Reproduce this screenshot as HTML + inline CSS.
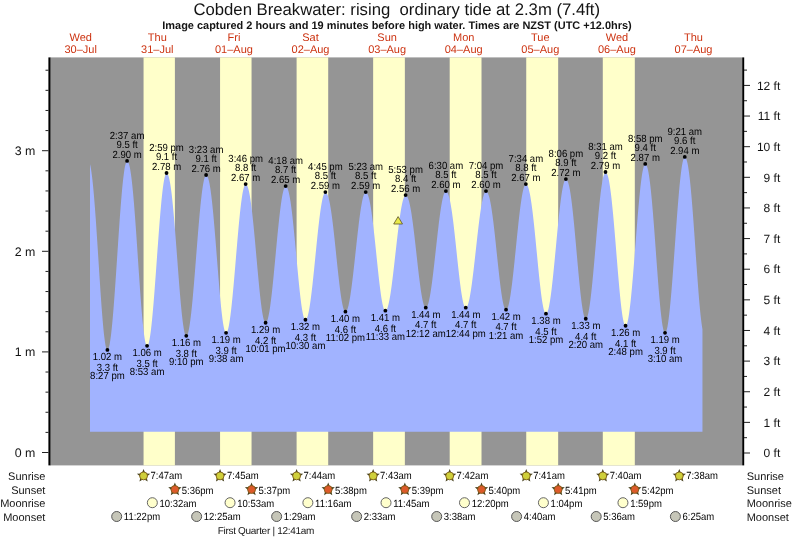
<!DOCTYPE html><html><head><meta charset="utf-8"><title>Cobden Breakwater tide</title>
<style>
html,body{margin:0;padding:0;background:#fff;}
body{width:793px;height:539px;overflow:hidden;position:relative;font-family:"Liberation Sans",sans-serif;}
svg{position:absolute;left:0;top:0;display:block;will-change:transform;}
text{font-family:"Liberation Sans",sans-serif;fill:#141414;text-rendering:geometricPrecision;}
.t{font-size:16.72px;text-anchor:middle;}
.s{font-size:10.96px;font-weight:bold;text-anchor:middle;}
.d{font-size:11px;text-anchor:middle;fill:#cc3311;}
.ax{font-size:12px;}
.lb{font-size:10.3px;text-anchor:middle;fill:#000;}
.rw{font-size:11px;}
.tm{font-size:10.4px;fill:#000;}
</style></head><body>
<svg width="793" height="539" viewBox="0 0 793 539">
<rect x="0" y="0" width="793" height="539" fill="#fff"/>
<rect x="50" y="57.4" width="692" height="408.0" fill="#959595"/>
<rect x="143.56" y="57.4" width="31.33" height="408.0" fill="#ffffca"/>
<rect x="220.06" y="57.4" width="31.49" height="408.0" fill="#ffffca"/>
<rect x="296.60" y="57.4" width="31.60" height="408.0" fill="#ffffca"/>
<rect x="373.15" y="57.4" width="31.70" height="408.0" fill="#ffffca"/>
<rect x="449.70" y="57.4" width="31.81" height="408.0" fill="#ffffca"/>
<rect x="526.24" y="57.4" width="31.92" height="408.0" fill="#ffffca"/>
<rect x="602.79" y="57.4" width="32.02" height="408.0" fill="#ffffca"/>
<path d="M90.00 431.70 L90.00 164.14 L90.50 166.36 L91.00 169.11 L91.50 172.38 L92.00 176.16 L92.50 180.45 L93.00 185.23 L93.50 190.47 L94.00 196.15 L94.50 202.24 L95.00 208.70 L95.50 215.50 L96.00 222.60 L96.50 229.94 L97.00 237.49 L97.50 245.18 L98.00 252.98 L98.50 260.82 L99.00 268.66 L99.50 276.43 L100.00 284.08 L100.50 291.55 L101.00 298.79 L101.50 305.74 L102.00 312.35 L102.50 318.57 L103.00 324.35 L103.50 329.64 L104.00 334.41 L104.50 338.61 L105.00 342.20 L105.50 345.15 L106.00 347.45 L106.50 349.06 L107.00 349.97 L107.50 350.18 L108.00 349.74 L108.50 348.71 L109.00 347.09 L109.50 344.88 L110.00 342.11 L110.50 338.78 L111.00 334.93 L111.50 330.58 L112.00 325.74 L112.50 320.46 L113.00 314.77 L113.50 308.71 L114.00 302.30 L114.50 295.60 L115.00 288.65 L115.50 281.48 L116.00 274.16 L116.50 266.71 L117.00 259.20 L117.50 251.66 L118.00 244.15 L118.50 236.71 L119.00 229.39 L119.50 222.24 L120.00 215.31 L120.50 208.63 L121.00 202.25 L121.50 196.21 L122.00 190.55 L122.50 185.30 L123.00 180.51 L123.50 176.19 L124.00 172.38 L124.50 169.10 L125.00 166.37 L125.50 164.21 L126.00 162.63 L126.50 161.64 L127.00 161.26 L127.50 161.36 L128.00 161.85 L128.50 162.77 L129.00 164.15 L129.50 166.01 L130.00 168.35 L130.50 171.18 L131.00 174.49 L131.50 178.27 L132.00 182.52 L132.50 187.21 L133.00 192.33 L133.50 197.85 L134.00 203.74 L134.50 209.96 L135.00 216.49 L135.50 223.28 L136.00 230.30 L136.50 237.49 L137.00 244.82 L137.50 252.24 L138.00 259.69 L138.50 267.13 L139.00 274.51 L139.50 281.78 L140.00 288.88 L140.50 295.77 L141.00 302.39 L141.50 308.71 L142.00 314.66 L142.50 320.21 L143.00 325.32 L143.50 329.94 L144.00 334.05 L144.50 337.60 L145.00 340.56 L145.50 342.92 L146.00 344.65 L146.50 345.74 L147.00 346.16 L147.50 345.96 L148.00 345.20 L148.50 343.89 L149.00 342.02 L149.50 339.62 L150.00 336.71 L150.50 333.29 L151.00 329.39 L151.50 325.04 L152.00 320.26 L152.50 315.09 L153.00 309.56 L153.50 303.71 L154.00 297.57 L154.50 291.18 L155.00 284.59 L155.50 277.84 L156.00 270.97 L156.50 264.02 L157.00 257.05 L157.50 250.10 L158.00 243.21 L158.50 236.42 L159.00 229.79 L159.50 223.36 L160.00 217.16 L160.50 211.23 L161.00 205.63 L161.50 200.37 L162.00 195.50 L162.50 191.05 L163.00 187.05 L163.50 183.51 L164.00 180.48 L164.50 177.96 L165.00 175.97 L165.50 174.53 L166.00 173.64 L166.50 173.31 L167.00 173.43 L167.50 173.89 L168.00 174.75 L168.50 176.03 L169.00 177.74 L169.50 179.88 L170.00 182.47 L170.50 185.49 L171.00 188.94 L171.50 192.81 L172.00 197.07 L172.50 201.72 L173.00 206.72 L173.50 212.04 L174.00 217.67 L174.50 223.56 L175.00 229.68 L175.50 235.99 L176.00 242.45 L176.50 249.02 L177.00 255.66 L177.50 262.31 L178.00 268.93 L178.50 275.49 L179.00 281.92 L179.50 288.19 L180.00 294.24 L180.50 300.04 L181.00 305.53 L181.50 310.69 L182.00 315.46 L182.50 319.81 L183.00 323.71 L183.50 327.12 L184.00 330.02 L184.50 332.38 L185.00 334.18 L185.50 335.40 L186.00 336.03 L186.50 336.07 L187.00 335.59 L187.50 334.62 L188.00 333.15 L188.50 331.19 L189.00 328.76 L189.50 325.88 L190.00 322.55 L190.50 318.81 L191.00 314.67 L191.50 310.16 L192.00 305.31 L192.50 300.15 L193.00 294.71 L193.50 289.03 L194.00 283.14 L194.50 277.07 L195.00 270.88 L195.50 264.58 L196.00 258.24 L196.50 251.87 L197.00 245.53 L197.50 239.26 L198.00 233.09 L198.50 227.06 L199.00 221.21 L199.50 215.57 L200.00 210.19 L200.50 205.09 L201.00 200.31 L201.50 195.88 L202.00 191.82 L202.50 188.16 L203.00 184.92 L203.50 182.13 L204.00 179.80 L204.50 177.95 L205.00 176.58 L205.50 175.71 L206.00 175.33 L206.50 175.40 L207.00 175.78 L207.50 176.54 L208.00 177.68 L208.50 179.24 L209.00 181.21 L209.50 183.59 L210.00 186.39 L210.50 189.60 L211.00 193.21 L211.50 197.20 L212.00 201.56 L212.50 206.26 L213.00 211.28 L213.50 216.59 L214.00 222.16 L214.50 227.96 L215.00 233.95 L215.50 240.10 L216.00 246.37 L216.50 252.71 L217.00 259.09 L217.50 265.46 L218.00 271.77 L218.50 277.99 L219.00 284.07 L219.50 289.97 L220.00 295.64 L220.50 301.05 L221.00 306.15 L221.50 310.90 L222.00 315.28 L222.50 319.24 L223.00 322.75 L223.50 325.79 L224.00 328.32 L224.50 330.34 L225.00 331.82 L225.50 332.74 L226.00 333.10 L226.50 332.93 L227.00 332.27 L227.50 331.15 L228.00 329.55 L228.50 327.50 L229.00 325.01 L229.50 322.10 L230.00 318.77 L230.50 315.06 L231.00 310.99 L231.50 306.58 L232.00 301.86 L232.50 296.86 L233.00 291.62 L233.50 286.17 L234.00 280.54 L234.50 274.77 L235.00 268.90 L235.50 262.96 L236.00 256.99 L236.50 251.04 L237.00 245.14 L237.50 239.32 L238.00 233.63 L238.50 228.10 L239.00 222.76 L239.50 217.66 L240.00 212.82 L240.50 208.28 L241.00 204.06 L241.50 200.20 L242.00 196.71 L242.50 193.62 L243.00 190.95 L243.50 188.72 L244.00 186.93 L244.50 185.61 L245.00 184.76 L245.50 184.38 L246.00 184.42 L246.50 184.75 L247.00 185.39 L247.50 186.39 L248.00 187.74 L248.50 189.45 L249.00 191.53 L249.50 193.98 L250.00 196.78 L250.50 199.94 L251.00 203.43 L251.50 207.24 L252.00 211.36 L252.50 215.76 L253.00 220.41 L253.50 225.30 L254.00 230.39 L254.50 235.65 L255.00 241.05 L255.50 246.55 L256.00 252.13 L256.50 257.73 L257.00 263.33 L257.50 268.88 L258.00 274.36 L258.50 279.71 L259.00 284.90 L259.50 289.90 L260.00 294.66 L260.50 299.16 L261.00 303.35 L261.50 307.21 L262.00 310.71 L262.50 313.82 L263.00 316.51 L263.50 318.76 L264.00 320.55 L264.50 321.87 L265.00 322.71 L265.50 323.05 L266.00 322.91 L266.50 322.36 L267.00 321.39 L267.50 320.02 L268.00 318.24 L268.50 316.08 L269.00 313.53 L269.50 310.63 L270.00 307.38 L270.50 303.82 L271.00 299.95 L271.50 295.80 L272.00 291.40 L272.50 286.77 L273.00 281.95 L273.50 276.97 L274.00 271.84 L274.50 266.61 L275.00 261.31 L275.50 255.97 L276.00 250.62 L276.50 245.29 L277.00 240.02 L277.50 234.85 L278.00 229.79 L278.50 224.89 L279.00 220.17 L279.50 215.66 L280.00 211.39 L280.50 207.39 L281.00 203.68 L281.50 200.28 L282.00 197.21 L282.50 194.50 L283.00 192.15 L283.50 190.19 L284.00 188.63 L284.50 187.47 L285.00 186.72 L285.50 186.39 L286.00 186.43 L286.50 186.75 L287.00 187.38 L287.50 188.35 L288.00 189.67 L288.50 191.35 L289.00 193.39 L289.50 195.78 L290.00 198.53 L290.50 201.62 L291.00 205.04 L291.50 208.77 L292.00 212.79 L292.50 217.09 L293.00 221.64 L293.50 226.42 L294.00 231.38 L294.50 236.52 L295.00 241.78 L295.50 247.14 L296.00 252.56 L296.50 258.01 L297.00 263.44 L297.50 268.82 L298.00 274.12 L298.50 279.29 L299.00 284.30 L299.50 289.11 L300.00 293.68 L300.50 297.99 L301.00 301.99 L301.50 305.65 L302.00 308.96 L302.50 311.87 L303.00 314.37 L303.50 316.43 L304.00 318.05 L304.50 319.19 L305.00 319.86 L305.50 320.04 L306.00 319.79 L306.50 319.14 L307.00 318.11 L307.50 316.69 L308.00 314.89 L308.50 312.74 L309.00 310.23 L309.50 307.39 L310.00 304.23 L310.50 300.77 L311.00 297.04 L311.50 293.05 L312.00 288.84 L312.50 284.42 L313.00 279.83 L313.50 275.10 L314.00 270.24 L314.50 265.30 L315.00 260.30 L315.50 255.28 L316.00 250.27 L316.50 245.29 L317.00 240.37 L317.50 235.56 L318.00 230.87 L318.50 226.35 L319.00 222.00 L319.50 217.87 L320.00 213.98 L320.50 210.35 L321.00 207.00 L321.50 203.96 L322.00 201.24 L322.50 198.86 L323.00 196.84 L323.50 195.18 L324.00 193.91 L324.50 193.02 L325.00 192.52 L325.50 192.41 L326.00 192.57 L326.50 192.98 L327.00 193.69 L327.50 194.69 L328.00 196.00 L328.50 197.63 L329.00 199.57 L329.50 201.81 L330.00 204.36 L330.50 207.21 L331.00 210.33 L331.50 213.73 L332.00 217.37 L332.50 221.25 L333.00 225.33 L333.50 229.60 L334.00 234.03 L334.50 238.60 L335.00 243.27 L335.50 248.02 L336.00 252.82 L336.50 257.63 L337.00 262.42 L337.50 267.16 L338.00 271.82 L338.50 276.36 L339.00 280.75 L339.50 284.97 L340.00 288.97 L340.50 292.74 L341.00 296.23 L341.50 299.44 L342.00 302.32 L342.50 304.87 L343.00 307.05 L343.50 308.85 L344.00 310.26 L344.50 311.26 L345.00 311.84 L345.50 312.00 L346.00 311.77 L346.50 311.19 L347.00 310.25 L347.50 308.96 L348.00 307.33 L348.50 305.38 L349.00 303.10 L349.50 300.51 L350.00 297.64 L350.50 294.50 L351.00 291.10 L351.50 287.46 L352.00 283.62 L352.50 279.58 L353.00 275.38 L353.50 271.05 L354.00 266.60 L354.50 262.06 L355.00 257.46 L355.50 252.84 L356.00 248.20 L356.50 243.60 L357.00 239.04 L357.50 234.56 L358.00 230.19 L358.50 225.95 L359.00 221.87 L359.50 217.97 L360.00 214.28 L360.50 210.81 L361.00 207.60 L361.50 204.65 L362.00 201.98 L362.50 199.62 L363.00 197.57 L363.50 195.85 L364.00 194.47 L364.50 193.44 L365.00 192.76 L365.50 192.43 L366.00 192.44 L366.50 192.69 L367.00 193.23 L367.50 194.06 L368.00 195.21 L368.50 196.68 L369.00 198.47 L369.50 200.58 L370.00 203.01 L370.50 205.75 L371.00 208.78 L371.50 212.09 L372.00 215.67 L372.50 219.50 L373.00 223.55 L373.50 227.80 L374.00 232.22 L374.50 236.80 L375.00 241.49 L375.50 246.27 L376.00 251.11 L376.50 255.96 L377.00 260.81 L377.50 265.61 L378.00 270.34 L378.50 274.95 L379.00 279.41 L379.50 283.69 L380.00 287.77 L380.50 291.59 L381.00 295.15 L381.50 298.40 L382.00 301.33 L382.50 303.90 L383.00 306.11 L383.50 307.92 L384.00 309.33 L384.50 310.31 L385.00 310.87 L385.50 310.99 L386.00 310.73 L386.50 310.13 L387.00 309.18 L387.50 307.90 L388.00 306.28 L388.50 304.35 L389.00 302.11 L389.50 299.57 L390.00 296.75 L390.50 293.67 L391.00 290.34 L391.50 286.79 L392.00 283.04 L392.50 279.11 L393.00 275.02 L393.50 270.80 L394.00 266.48 L394.50 262.07 L395.00 257.61 L395.50 253.12 L396.00 248.64 L396.50 244.18 L397.00 239.78 L397.50 235.45 L398.00 231.24 L398.50 227.15 L399.00 223.23 L399.50 219.48 L400.00 215.94 L400.50 212.63 L401.00 209.56 L401.50 206.75 L402.00 204.22 L402.50 201.99 L403.00 200.07 L403.50 198.46 L404.00 197.19 L404.50 196.26 L405.00 195.67 L405.50 195.43 L406.00 195.48 L406.50 195.76 L407.00 196.29 L407.50 197.11 L408.00 198.20 L408.50 199.59 L409.00 201.27 L409.50 203.23 L410.00 205.49 L410.50 208.02 L411.00 210.82 L411.50 213.87 L412.00 217.17 L412.50 220.69 L413.00 224.41 L413.50 228.33 L414.00 232.40 L414.50 236.61 L415.00 240.94 L415.50 245.35 L416.00 249.82 L416.50 254.32 L417.00 258.82 L417.50 263.29 L418.00 267.69 L418.50 272.01 L419.00 276.21 L419.50 280.25 L420.00 284.12 L420.50 287.78 L421.00 291.21 L421.50 294.37 L422.00 297.26 L422.50 299.84 L423.00 302.09 L423.50 304.00 L424.00 305.55 L424.50 306.73 L425.00 307.52 L425.50 307.93 L426.00 307.94 L426.50 307.59 L427.00 306.89 L427.50 305.84 L428.00 304.44 L428.50 302.71 L429.00 300.66 L429.50 298.30 L430.00 295.64 L430.50 292.70 L431.00 289.50 L431.50 286.06 L432.00 282.39 L432.50 278.53 L433.00 274.48 L433.50 270.29 L434.00 265.97 L434.50 261.56 L435.00 257.07 L435.50 252.53 L436.00 247.98 L436.50 243.44 L437.00 238.93 L437.50 234.50 L438.00 230.15 L438.50 225.92 L439.00 221.84 L439.50 217.93 L440.00 214.21 L440.50 210.71 L441.00 207.45 L441.50 204.44 L442.00 201.71 L442.50 199.28 L443.00 197.15 L443.50 195.34 L444.00 193.86 L444.50 192.72 L445.00 191.93 L445.50 191.50 L446.00 191.41 L446.50 191.57 L447.00 191.99 L447.50 192.70 L448.00 193.70 L448.50 195.01 L449.00 196.63 L449.50 198.56 L450.00 200.80 L450.50 203.33 L451.00 206.16 L451.50 209.26 L452.00 212.62 L452.50 216.24 L453.00 220.07 L453.50 224.12 L454.00 228.34 L454.50 232.72 L455.00 237.23 L455.50 241.83 L456.00 246.51 L456.50 251.23 L457.00 255.95 L457.50 260.65 L458.00 265.29 L458.50 269.85 L459.00 274.28 L459.50 278.56 L460.00 282.65 L460.50 286.52 L461.00 290.16 L461.50 293.52 L462.00 296.58 L462.50 299.32 L463.00 301.71 L463.50 303.74 L464.00 305.39 L464.50 306.65 L465.00 307.49 L465.50 307.92 L466.00 307.94 L466.50 307.60 L467.00 306.90 L467.50 305.86 L468.00 304.48 L468.50 302.78 L469.00 300.75 L469.50 298.41 L470.00 295.78 L470.50 292.87 L471.00 289.70 L471.50 286.29 L472.00 282.65 L472.50 278.82 L473.00 274.82 L473.50 270.66 L474.00 266.37 L474.50 261.99 L475.00 257.53 L475.50 253.02 L476.00 248.49 L476.50 243.97 L477.00 239.48 L477.50 235.06 L478.00 230.72 L478.50 226.50 L479.00 222.42 L479.50 218.50 L480.00 214.77 L480.50 211.26 L481.00 207.97 L481.50 204.94 L482.00 202.17 L482.50 199.69 L483.00 197.52 L483.50 195.66 L484.00 194.12 L484.50 192.92 L485.00 192.07 L485.50 191.56 L486.00 191.40 L486.50 191.51 L487.00 191.87 L487.50 192.52 L488.00 193.46 L488.50 194.70 L489.00 196.25 L489.50 198.12 L490.00 200.29 L490.50 202.76 L491.00 205.53 L491.50 208.57 L492.00 211.89 L492.50 215.46 L493.00 219.26 L493.50 223.27 L494.00 227.47 L494.50 231.84 L495.00 236.35 L495.50 240.96 L496.00 245.66 L496.50 250.41 L497.00 255.18 L497.50 259.94 L498.00 264.65 L498.50 269.28 L499.00 273.81 L499.50 278.20 L500.00 282.41 L500.50 286.43 L501.00 290.21 L501.50 293.73 L502.00 296.96 L502.50 299.88 L503.00 302.47 L503.50 304.70 L504.00 306.56 L504.50 308.03 L505.00 309.10 L505.50 309.75 L506.00 309.99 L506.50 309.82 L507.00 309.25 L507.50 308.29 L508.00 306.96 L508.50 305.24 L509.00 303.17 L509.50 300.74 L510.00 297.98 L510.50 294.90 L511.00 291.52 L511.50 287.86 L512.00 283.95 L512.50 279.80 L513.00 275.46 L513.50 270.93 L514.00 266.26 L514.50 261.47 L515.00 256.59 L515.50 251.64 L516.00 246.68 L516.50 241.71 L517.00 236.78 L517.50 231.91 L518.00 227.14 L518.50 222.50 L519.00 218.01 L519.50 213.70 L520.00 209.60 L520.50 205.74 L521.00 202.13 L521.50 198.81 L522.00 195.79 L522.50 193.10 L523.00 190.74 L523.50 188.74 L524.00 187.10 L524.50 185.84 L525.00 184.96 L525.50 184.47 L526.00 184.37 L526.50 184.55 L527.00 185.00 L527.50 185.77 L528.00 186.85 L528.50 188.28 L529.00 190.04 L529.50 192.13 L530.00 194.56 L530.50 197.32 L531.00 200.39 L531.50 203.77 L532.00 207.43 L532.50 211.37 L533.00 215.55 L533.50 219.97 L534.00 224.58 L534.50 229.37 L535.00 234.30 L535.50 239.35 L536.00 244.49 L536.50 249.67 L537.00 254.87 L537.50 260.05 L538.00 265.18 L538.50 270.22 L539.00 275.13 L539.50 279.89 L540.00 284.46 L540.50 288.80 L541.00 292.89 L541.50 296.69 L542.00 300.18 L542.50 303.32 L543.00 306.09 L543.50 308.48 L544.00 310.46 L544.50 312.02 L545.00 313.13 L545.50 313.80 L546.00 314.01 L546.50 313.78 L547.00 313.13 L547.50 312.07 L548.00 310.61 L548.50 308.74 L549.00 306.49 L549.50 303.86 L550.00 300.88 L550.50 297.56 L551.00 293.92 L551.50 289.99 L552.00 285.79 L552.50 281.34 L553.00 276.68 L553.50 271.84 L554.00 266.83 L554.50 261.70 L555.00 256.48 L555.50 251.19 L556.00 245.88 L556.50 240.57 L557.00 235.30 L557.50 230.10 L558.00 225.01 L558.50 220.04 L559.00 215.25 L559.50 210.65 L560.00 206.28 L560.50 202.15 L561.00 198.31 L561.50 194.76 L562.00 191.54 L562.50 188.67 L563.00 186.15 L563.50 184.01 L564.00 182.26 L564.50 180.92 L565.00 179.98 L565.50 179.46 L566.00 179.35 L566.50 179.54 L567.00 180.04 L567.50 180.88 L568.00 182.08 L568.50 183.64 L569.00 185.58 L569.50 187.89 L570.00 190.56 L570.50 193.59 L571.00 196.97 L571.50 200.69 L572.00 204.72 L572.50 209.04 L573.00 213.64 L573.50 218.48 L574.00 223.53 L574.50 228.78 L575.00 234.18 L575.50 239.70 L576.00 245.30 L576.50 250.95 L577.00 256.62 L577.50 262.25 L578.00 267.81 L578.50 273.27 L579.00 278.58 L579.50 283.71 L580.00 288.62 L580.50 293.26 L581.00 297.62 L581.50 301.65 L582.00 305.32 L582.50 308.61 L583.00 311.49 L583.50 313.93 L584.00 315.91 L584.50 317.42 L585.00 318.44 L585.50 318.96 L586.00 318.98 L586.50 318.54 L587.00 317.63 L587.50 316.26 L588.00 314.45 L588.50 312.20 L589.00 309.53 L589.50 306.46 L590.00 303.00 L590.50 299.18 L591.00 295.02 L591.50 290.55 L592.00 285.79 L592.50 280.78 L593.00 275.55 L593.50 270.12 L594.00 264.55 L594.50 258.85 L595.00 253.07 L595.50 247.24 L596.00 241.41 L596.50 235.60 L597.00 229.85 L597.50 224.21 L598.00 218.70 L598.50 213.36 L599.00 208.22 L599.50 203.32 L600.00 198.69 L600.50 194.36 L601.00 190.36 L601.50 186.70 L602.00 183.42 L602.50 180.53 L603.00 178.05 L603.50 176.00 L604.00 174.39 L604.50 173.24 L605.00 172.54 L605.50 172.31 L606.00 172.43 L606.50 172.89 L607.00 173.70 L607.50 174.89 L608.00 176.48 L608.50 178.47 L609.00 180.87 L609.50 183.66 L610.00 186.85 L610.50 190.41 L611.00 194.34 L611.50 198.62 L612.00 203.23 L612.50 208.14 L613.00 213.33 L613.50 218.77 L614.00 224.42 L614.50 230.25 L615.00 236.23 L615.50 242.32 L616.00 248.47 L616.50 254.66 L617.00 260.83 L617.50 266.94 L618.00 272.96 L618.50 278.84 L619.00 284.54 L619.50 290.01 L620.00 295.23 L620.50 300.15 L621.00 304.74 L621.50 308.95 L622.00 312.76 L622.50 316.14 L623.00 319.06 L623.50 321.50 L624.00 323.44 L624.50 324.85 L625.00 325.73 L625.50 326.07 L626.00 325.87 L626.50 325.15 L627.00 323.93 L627.50 322.21 L628.00 319.99 L628.50 317.30 L629.00 314.16 L629.50 310.57 L630.00 306.56 L630.50 302.17 L631.00 297.41 L631.50 292.32 L632.00 286.92 L632.50 281.27 L633.00 275.38 L633.50 269.30 L634.00 263.07 L634.50 256.72 L635.00 250.30 L635.50 243.85 L636.00 237.40 L636.50 231.01 L637.00 224.70 L637.50 218.53 L638.00 212.52 L638.50 206.72 L639.00 201.17 L639.50 195.90 L640.00 190.94 L640.50 186.32 L641.00 182.09 L641.50 178.25 L642.00 174.84 L642.50 171.87 L643.00 169.38 L643.50 167.36 L644.00 165.84 L644.50 164.83 L645.00 164.32 L645.50 164.30 L646.00 164.63 L646.50 165.35 L647.00 166.50 L647.50 168.08 L648.00 170.12 L648.50 172.60 L649.00 175.54 L649.50 178.93 L650.00 182.75 L650.50 186.99 L651.00 191.63 L651.50 196.65 L652.00 202.02 L652.50 207.71 L653.00 213.69 L653.50 219.92 L654.00 226.36 L654.50 232.98 L655.00 239.73 L655.50 246.57 L656.00 253.45 L656.50 260.32 L657.00 267.13 L657.50 273.85 L658.00 280.42 L658.50 286.78 L659.00 292.91 L659.50 298.75 L660.00 304.25 L660.50 309.38 L661.00 314.09 L661.50 318.35 L662.00 322.13 L662.50 325.39 L663.00 328.10 L663.50 330.25 L664.00 331.81 L664.50 332.76 L665.00 333.10 L665.50 332.86 L666.00 332.05 L666.50 330.70 L667.00 328.80 L667.50 326.38 L668.00 323.44 L668.50 320.00 L669.00 316.10 L669.50 311.74 L670.00 306.96 L670.50 301.79 L671.00 296.26 L671.50 290.41 L672.00 284.27 L672.50 277.88 L673.00 271.29 L673.50 264.53 L674.00 257.65 L674.50 250.69 L675.00 243.69 L675.50 236.70 L676.00 229.77 L676.50 222.94 L677.00 216.24 L677.50 209.73 L678.00 203.44 L678.50 197.42 L679.00 191.70 L679.50 186.32 L680.00 181.31 L680.50 176.71 L681.00 172.53 L681.50 168.82 L682.00 165.59 L682.50 162.87 L683.00 160.67 L683.50 159.00 L684.00 157.88 L684.50 157.31 L685.00 157.26 L685.50 157.59 L686.00 158.32 L686.50 159.50 L687.00 161.14 L687.50 163.25 L688.00 165.83 L688.50 168.89 L689.00 172.42 L689.50 176.40 L690.00 180.82 L690.50 185.67 L691.00 190.91 L691.50 196.52 L692.00 202.47 L692.50 208.73 L693.00 215.25 L693.50 222.01 L694.00 228.95 L694.50 236.03 L695.00 243.21 L695.50 250.43 L696.00 257.65 L696.50 264.83 L697.00 271.90 L697.50 278.82 L698.00 285.53 L698.50 292.00 L699.00 298.18 L699.50 304.00 L700.00 309.44 L700.50 314.46 L701.00 319.00 L701.50 323.04 L702.00 326.54 L702.45 329.20 L702.45 431.70 Z" fill="#a1b3ff"/>
<rect x="48.4" y="57.4" width="2" height="408.0" fill="#000"/>
<rect x="742.2" y="57.4" width="2" height="408.0" fill="#000"/>
<rect x="42" y="452.00" width="6.5" height="1" fill="#222"/>
<text class="ax" style="font-size:12.4px" x="35.4" y="457.00" text-anchor="end">0 m</text>
<rect x="45.5" y="431.88" width="3" height="1" fill="#222"/>
<rect x="45.5" y="411.76" width="3" height="1" fill="#222"/>
<rect x="45.5" y="391.64" width="3" height="1" fill="#222"/>
<rect x="45.5" y="371.52" width="3" height="1" fill="#222"/>
<rect x="42" y="351.40" width="6.5" height="1" fill="#222"/>
<text class="ax" style="font-size:12.4px" x="35.4" y="356.40" text-anchor="end">1 m</text>
<rect x="45.5" y="331.28" width="3" height="1" fill="#222"/>
<rect x="45.5" y="311.16" width="3" height="1" fill="#222"/>
<rect x="45.5" y="291.04" width="3" height="1" fill="#222"/>
<rect x="45.5" y="270.92" width="3" height="1" fill="#222"/>
<rect x="42" y="250.80" width="6.5" height="1" fill="#222"/>
<text class="ax" style="font-size:12.4px" x="35.4" y="255.80" text-anchor="end">2 m</text>
<rect x="45.5" y="230.68" width="3" height="1" fill="#222"/>
<rect x="45.5" y="210.56" width="3" height="1" fill="#222"/>
<rect x="45.5" y="190.44" width="3" height="1" fill="#222"/>
<rect x="45.5" y="170.32" width="3" height="1" fill="#222"/>
<rect x="42" y="150.20" width="6.5" height="1" fill="#222"/>
<text class="ax" style="font-size:12.4px" x="35.4" y="155.20" text-anchor="end">3 m</text>
<rect x="45.5" y="130.08" width="3" height="1" fill="#222"/>
<rect x="45.5" y="109.96" width="3" height="1" fill="#222"/>
<rect x="45.5" y="89.84" width="3" height="1" fill="#222"/>
<rect x="45.5" y="69.72" width="3" height="1" fill="#222"/>
<rect x="744" y="452.50" width="6" height="1" fill="#222"/>
<text class="ax" x="780.3" y="457.20" text-anchor="end">0 ft</text>
<rect x="744" y="437.18" width="3" height="1" fill="#222"/>
<rect x="744" y="421.87" width="6" height="1" fill="#222"/>
<text class="ax" x="780.3" y="426.57" text-anchor="end">1 ft</text>
<rect x="744" y="406.55" width="3" height="1" fill="#222"/>
<rect x="744" y="391.24" width="6" height="1" fill="#222"/>
<text class="ax" x="780.3" y="395.94" text-anchor="end">2 ft</text>
<rect x="744" y="375.92" width="3" height="1" fill="#222"/>
<rect x="744" y="360.60" width="6" height="1" fill="#222"/>
<text class="ax" x="780.3" y="365.30" text-anchor="end">3 ft</text>
<rect x="744" y="345.29" width="3" height="1" fill="#222"/>
<rect x="744" y="329.97" width="6" height="1" fill="#222"/>
<text class="ax" x="780.3" y="334.67" text-anchor="end">4 ft</text>
<rect x="744" y="314.65" width="3" height="1" fill="#222"/>
<rect x="744" y="299.34" width="6" height="1" fill="#222"/>
<text class="ax" x="780.3" y="304.04" text-anchor="end">5 ft</text>
<rect x="744" y="284.02" width="3" height="1" fill="#222"/>
<rect x="744" y="268.71" width="6" height="1" fill="#222"/>
<text class="ax" x="780.3" y="273.41" text-anchor="end">6 ft</text>
<rect x="744" y="253.39" width="3" height="1" fill="#222"/>
<rect x="744" y="238.07" width="6" height="1" fill="#222"/>
<text class="ax" x="780.3" y="242.77" text-anchor="end">7 ft</text>
<rect x="744" y="222.76" width="3" height="1" fill="#222"/>
<rect x="744" y="207.44" width="6" height="1" fill="#222"/>
<text class="ax" x="780.3" y="212.14" text-anchor="end">8 ft</text>
<rect x="744" y="192.12" width="3" height="1" fill="#222"/>
<rect x="744" y="176.81" width="6" height="1" fill="#222"/>
<text class="ax" x="780.3" y="181.51" text-anchor="end">9 ft</text>
<rect x="744" y="161.49" width="3" height="1" fill="#222"/>
<rect x="744" y="146.18" width="6" height="1" fill="#222"/>
<text class="ax" x="780.3" y="150.88" text-anchor="end">10 ft</text>
<rect x="744" y="130.86" width="3" height="1" fill="#222"/>
<rect x="744" y="115.54" width="6" height="1" fill="#222"/>
<text class="ax" x="780.3" y="120.24" text-anchor="end">11 ft</text>
<rect x="744" y="100.23" width="3" height="1" fill="#222"/>
<rect x="744" y="84.91" width="6" height="1" fill="#222"/>
<text class="ax" x="780.3" y="89.61" text-anchor="end">12 ft</text>
<rect x="744" y="69.59" width="3" height="1" fill="#222"/>
<text class="t" x="396.75" y="14.6" xml:space="preserve">Cobden Breakwater: rising  ordinary tide at 2.3m (7.4ft)</text>
<text class="s" x="397.0" y="28.9">Image captured 2 hours and 19 minutes before high water. Times are NZST (UTC +12.0hrs)</text>
<text class="d" x="80.72" y="40.6">Wed</text>
<text class="d" x="80.72" y="53">30–Jul</text>
<text class="d" x="157.32" y="40.6">Thu</text>
<text class="d" x="157.32" y="53">31–Jul</text>
<text class="d" x="233.92" y="40.6">Fri</text>
<text class="d" x="233.92" y="53">01–Aug</text>
<text class="d" x="310.52" y="40.6">Sat</text>
<text class="d" x="310.52" y="53">02–Aug</text>
<text class="d" x="387.12" y="40.6">Sun</text>
<text class="d" x="387.12" y="53">03–Aug</text>
<text class="d" x="463.72" y="40.6">Mon</text>
<text class="d" x="463.72" y="53">04–Aug</text>
<text class="d" x="540.32" y="40.6">Tue</text>
<text class="d" x="540.32" y="53">05–Aug</text>
<text class="d" x="616.92" y="40.6">Wed</text>
<text class="d" x="616.92" y="53">06–Aug</text>
<text class="d" x="693.52" y="40.6">Thu</text>
<text class="d" x="693.52" y="53">07–Aug</text>
<circle cx="107.39" cy="349.89" r="1.9" fill="#000"/>
<text class="lb" transform="translate(107.39 360.19) scale(0.930 1)">1.02 m</text>
<text class="lb" transform="translate(107.39 370.69) scale(0.930 1)">3.3 ft</text>
<text class="lb" transform="translate(107.39 379.39) scale(0.930 1)">8:27 pm</text>
<circle cx="127.07" cy="160.95" r="1.9" fill="#000"/>
<text class="lb" transform="translate(127.07 139.05) scale(0.930 1)">2:37 am</text>
<text class="lb" transform="translate(127.07 147.55) scale(0.930 1)">9.5 ft</text>
<text class="lb" transform="translate(127.07 157.65) scale(0.930 1)">2.90 m</text>
<circle cx="147.07" cy="345.87" r="1.9" fill="#000"/>
<text class="lb" transform="translate(147.07 356.17) scale(0.930 1)">1.06 m</text>
<text class="lb" transform="translate(147.07 366.67) scale(0.930 1)">3.5 ft</text>
<text class="lb" transform="translate(147.07 375.37) scale(0.930 1)">8:53 am</text>
<circle cx="166.54" cy="173.01" r="1.9" fill="#000"/>
<text class="lb" transform="translate(166.54 151.11) scale(0.930 1)">2:59 pm</text>
<text class="lb" transform="translate(166.54 159.61) scale(0.930 1)">9.1 ft</text>
<text class="lb" transform="translate(166.54 169.71) scale(0.930 1)">2.78 m</text>
<circle cx="186.28" cy="335.82" r="1.9" fill="#000"/>
<text class="lb" transform="translate(186.28 346.12) scale(0.930 1)">1.16 m</text>
<text class="lb" transform="translate(186.28 356.62) scale(0.930 1)">3.8 ft</text>
<text class="lb" transform="translate(186.28 365.32) scale(0.930 1)">9:10 pm</text>
<circle cx="206.12" cy="175.02" r="1.9" fill="#000"/>
<text class="lb" transform="translate(206.12 153.12) scale(0.930 1)">3:23 am</text>
<text class="lb" transform="translate(206.12 161.62) scale(0.930 1)">9.1 ft</text>
<text class="lb" transform="translate(206.12 171.72) scale(0.930 1)">2.76 m</text>
<circle cx="226.07" cy="332.80" r="1.9" fill="#000"/>
<text class="lb" transform="translate(226.07 343.10) scale(0.930 1)">1.19 m</text>
<text class="lb" transform="translate(226.07 353.60) scale(0.930 1)">3.9 ft</text>
<text class="lb" transform="translate(226.07 362.30) scale(0.930 1)">9:38 am</text>
<circle cx="245.64" cy="184.07" r="1.9" fill="#000"/>
<text class="lb" transform="translate(245.64 162.17) scale(0.930 1)">3:46 pm</text>
<text class="lb" transform="translate(245.64 170.67) scale(0.930 1)">8.8 ft</text>
<text class="lb" transform="translate(245.64 180.77) scale(0.930 1)">2.67 m</text>
<circle cx="265.59" cy="322.75" r="1.9" fill="#000"/>
<text class="lb" transform="translate(265.59 333.06) scale(0.930 1)">1.29 m</text>
<text class="lb" transform="translate(265.59 343.56) scale(0.930 1)">4.2 ft</text>
<text class="lb" transform="translate(265.59 352.25) scale(0.930 1)">10:01 pm</text>
<circle cx="285.64" cy="186.08" r="1.9" fill="#000"/>
<text class="lb" transform="translate(285.64 164.18) scale(0.930 1)">4:18 am</text>
<text class="lb" transform="translate(285.64 172.68) scale(0.930 1)">8.7 ft</text>
<text class="lb" transform="translate(285.64 182.78) scale(0.930 1)">2.65 m</text>
<circle cx="305.43" cy="319.74" r="1.9" fill="#000"/>
<text class="lb" transform="translate(305.43 330.04) scale(0.930 1)">1.32 m</text>
<text class="lb" transform="translate(305.43 340.54) scale(0.930 1)">4.3 ft</text>
<text class="lb" transform="translate(305.43 349.24) scale(0.930 1)">10:30 am</text>
<circle cx="325.38" cy="192.11" r="1.9" fill="#000"/>
<text class="lb" transform="translate(325.38 170.21) scale(0.930 1)">4:45 pm</text>
<text class="lb" transform="translate(325.38 178.71) scale(0.930 1)">8.5 ft</text>
<text class="lb" transform="translate(325.38 188.81) scale(0.930 1)">2.59 m</text>
<circle cx="345.43" cy="311.70" r="1.9" fill="#000"/>
<text class="lb" transform="translate(345.43 322.00) scale(0.930 1)">1.40 m</text>
<text class="lb" transform="translate(345.43 332.50) scale(0.930 1)">4.6 ft</text>
<text class="lb" transform="translate(345.43 341.20) scale(0.930 1)">11:02 pm</text>
<circle cx="365.70" cy="192.11" r="1.9" fill="#000"/>
<text class="lb" transform="translate(365.70 170.21) scale(0.930 1)">5:23 am</text>
<text class="lb" transform="translate(365.70 178.71) scale(0.930 1)">8.5 ft</text>
<text class="lb" transform="translate(365.70 188.81) scale(0.930 1)">2.59 m</text>
<circle cx="385.38" cy="310.69" r="1.9" fill="#000"/>
<text class="lb" transform="translate(385.38 321.00) scale(0.930 1)">1.41 m</text>
<text class="lb" transform="translate(385.38 331.50) scale(0.930 1)">4.6 ft</text>
<text class="lb" transform="translate(385.38 340.19) scale(0.930 1)">11:33 am</text>
<circle cx="405.60" cy="195.12" r="1.9" fill="#000"/>
<text class="lb" transform="translate(405.60 173.22) scale(0.930 1)">5:53 pm</text>
<text class="lb" transform="translate(405.60 181.72) scale(0.930 1)">8.4 ft</text>
<text class="lb" transform="translate(405.60 191.82) scale(0.930 1)">2.56 m</text>
<circle cx="425.76" cy="307.68" r="1.9" fill="#000"/>
<text class="lb" transform="translate(425.76 317.98) scale(0.930 1)">1.44 m</text>
<text class="lb" transform="translate(425.76 328.48) scale(0.930 1)">4.7 ft</text>
<text class="lb" transform="translate(425.76 337.18) scale(0.930 1)">12:12 am</text>
<circle cx="445.87" cy="191.10" r="1.9" fill="#000"/>
<text class="lb" transform="translate(445.87 169.20) scale(0.930 1)">6:30 am</text>
<text class="lb" transform="translate(445.87 177.70) scale(0.930 1)">8.5 ft</text>
<text class="lb" transform="translate(445.87 187.80) scale(0.930 1)">2.60 m</text>
<circle cx="465.76" cy="307.68" r="1.9" fill="#000"/>
<text class="lb" transform="translate(465.76 317.98) scale(0.930 1)">1.44 m</text>
<text class="lb" transform="translate(465.76 328.48) scale(0.930 1)">4.7 ft</text>
<text class="lb" transform="translate(465.76 337.18) scale(0.930 1)">12:44 pm</text>
<circle cx="485.97" cy="191.10" r="1.9" fill="#000"/>
<text class="lb" transform="translate(485.97 169.20) scale(0.930 1)">7:04 pm</text>
<text class="lb" transform="translate(485.97 177.70) scale(0.930 1)">8.5 ft</text>
<text class="lb" transform="translate(485.97 187.80) scale(0.930 1)">2.60 m</text>
<circle cx="506.03" cy="309.69" r="1.9" fill="#000"/>
<text class="lb" transform="translate(506.03 319.99) scale(0.930 1)">1.42 m</text>
<text class="lb" transform="translate(506.03 330.49) scale(0.930 1)">4.7 ft</text>
<text class="lb" transform="translate(506.03 339.19) scale(0.930 1)">1:21 am</text>
<circle cx="525.87" cy="184.07" r="1.9" fill="#000"/>
<text class="lb" transform="translate(525.87 162.17) scale(0.930 1)">7:34 am</text>
<text class="lb" transform="translate(525.87 170.67) scale(0.930 1)">8.8 ft</text>
<text class="lb" transform="translate(525.87 180.77) scale(0.930 1)">2.67 m</text>
<circle cx="545.98" cy="313.71" r="1.9" fill="#000"/>
<text class="lb" transform="translate(545.98 324.01) scale(0.930 1)">1.38 m</text>
<text class="lb" transform="translate(545.98 334.51) scale(0.930 1)">4.5 ft</text>
<text class="lb" transform="translate(545.98 343.21) scale(0.930 1)">1:52 pm</text>
<circle cx="565.87" cy="179.04" r="1.9" fill="#000"/>
<text class="lb" transform="translate(565.87 157.14) scale(0.930 1)">8:06 pm</text>
<text class="lb" transform="translate(565.87 165.64) scale(0.930 1)">8.9 ft</text>
<text class="lb" transform="translate(565.87 175.74) scale(0.930 1)">2.72 m</text>
<circle cx="585.77" cy="318.73" r="1.9" fill="#000"/>
<text class="lb" transform="translate(585.77 329.03) scale(0.930 1)">1.33 m</text>
<text class="lb" transform="translate(585.77 339.53) scale(0.930 1)">4.4 ft</text>
<text class="lb" transform="translate(585.77 348.23) scale(0.930 1)">2:20 am</text>
<circle cx="605.50" cy="172.01" r="1.9" fill="#000"/>
<text class="lb" transform="translate(605.50 150.11) scale(0.930 1)">8:31 am</text>
<text class="lb" transform="translate(605.50 158.61) scale(0.930 1)">9.2 ft</text>
<text class="lb" transform="translate(605.50 168.71) scale(0.930 1)">2.79 m</text>
<circle cx="625.56" cy="325.77" r="1.9" fill="#000"/>
<text class="lb" transform="translate(625.56 336.07) scale(0.930 1)">1.26 m</text>
<text class="lb" transform="translate(625.56 346.57) scale(0.930 1)">4.1 ft</text>
<text class="lb" transform="translate(625.56 355.27) scale(0.930 1)">2:48 pm</text>
<circle cx="645.24" cy="163.97" r="1.9" fill="#000"/>
<text class="lb" transform="translate(645.24 142.06) scale(0.930 1)">8:58 pm</text>
<text class="lb" transform="translate(645.24 150.56) scale(0.930 1)">9.4 ft</text>
<text class="lb" transform="translate(645.24 160.66) scale(0.930 1)">2.87 m</text>
<circle cx="665.03" cy="332.80" r="1.9" fill="#000"/>
<text class="lb" transform="translate(665.03 343.10) scale(0.930 1)">1.19 m</text>
<text class="lb" transform="translate(665.03 353.60) scale(0.930 1)">3.9 ft</text>
<text class="lb" transform="translate(665.03 362.30) scale(0.930 1)">3:10 am</text>
<circle cx="684.76" cy="156.93" r="1.9" fill="#000"/>
<text class="lb" transform="translate(684.76 135.03) scale(0.930 1)">9:21 am</text>
<text class="lb" transform="translate(684.76 143.53) scale(0.930 1)">9.6 ft</text>
<text class="lb" transform="translate(684.76 153.63) scale(0.930 1)">2.94 m</text>
<path d="M398.10 216.60 L402.50 224.00 L393.70 224.00 Z" fill="#eaea48" stroke="#5c5228" stroke-width="0.8" stroke-linejoin="round"/>
<text class="rw" x="45.4" y="480.0" text-anchor="end">Sunrise</text>
<text class="rw" x="746.7" y="480.0">Sunrise</text>
<text class="rw" x="45.4" y="493.6" text-anchor="end">Sunset</text>
<text class="rw" x="746.7" y="493.6">Sunset</text>
<text class="rw" x="45.4" y="507.0" text-anchor="end">Moonrise</text>
<text class="rw" x="746.7" y="507.0">Moonrise</text>
<text class="rw" x="45.4" y="520.5" text-anchor="end">Moonset</text>
<text class="rw" x="746.7" y="520.5">Moonset</text>
<path d="M143.56 468.90 L145.38 473.39 L150.22 473.74 L146.51 476.86 L147.68 481.56 L143.56 479.00 L139.45 481.56 L140.61 476.86 L136.90 473.74 L141.74 473.39 Z" fill="#453f1c"/><circle cx="143.56" cy="475.90" r="3.95" fill="#cfcf3a" stroke="#7a5c18" stroke-width="0.9"/>
<text class="tm" transform="translate(150.46 479.10) scale(0.915 1)">7:47am</text>
<path d="M174.89 482.50 L176.72 486.99 L181.55 487.34 L177.84 490.46 L179.01 495.16 L174.89 492.60 L170.78 495.16 L171.95 490.46 L168.24 487.34 L173.07 486.99 Z" fill="#453f1c"/><circle cx="174.89" cy="489.50" r="3.95" fill="#dd5a2a" stroke="#7a5c18" stroke-width="0.9"/>
<text class="tm" transform="translate(181.79 493.80) scale(0.915 1)">5:36pm</text>
<path d="M220.06 468.90 L221.88 473.39 L226.71 473.74 L223.00 476.86 L224.17 481.56 L220.06 479.00 L215.94 481.56 L217.11 476.86 L213.40 473.74 L218.23 473.39 Z" fill="#453f1c"/><circle cx="220.06" cy="475.90" r="3.95" fill="#cfcf3a" stroke="#7a5c18" stroke-width="0.9"/>
<text class="tm" transform="translate(226.96 479.10) scale(0.915 1)">7:45am</text>
<path d="M251.55 482.50 L253.37 486.99 L258.20 487.34 L254.49 490.46 L255.66 495.16 L251.55 492.60 L247.43 495.16 L248.60 490.46 L244.89 487.34 L249.72 486.99 Z" fill="#453f1c"/><circle cx="251.55" cy="489.50" r="3.95" fill="#dd5a2a" stroke="#7a5c18" stroke-width="0.9"/>
<text class="tm" transform="translate(258.45 493.80) scale(0.915 1)">5:37pm</text>
<path d="M296.60 468.90 L298.42 473.39 L303.26 473.74 L299.55 476.86 L300.72 481.56 L296.60 479.00 L292.49 481.56 L293.65 476.86 L289.94 473.74 L294.78 473.39 Z" fill="#453f1c"/><circle cx="296.60" cy="475.90" r="3.95" fill="#cfcf3a" stroke="#7a5c18" stroke-width="0.9"/>
<text class="tm" transform="translate(303.50 479.10) scale(0.915 1)">7:44am</text>
<path d="M328.20 482.50 L330.02 486.99 L334.86 487.34 L331.15 490.46 L332.31 495.16 L328.20 492.60 L324.09 495.16 L325.25 490.46 L321.54 487.34 L326.38 486.99 Z" fill="#453f1c"/><circle cx="328.20" cy="489.50" r="3.95" fill="#dd5a2a" stroke="#7a5c18" stroke-width="0.9"/>
<text class="tm" transform="translate(335.10 493.80) scale(0.915 1)">5:38pm</text>
<path d="M373.15 468.90 L374.97 473.39 L379.81 473.74 L376.10 476.86 L377.26 481.56 L373.15 479.00 L369.03 481.56 L370.20 476.86 L366.49 473.74 L371.33 473.39 Z" fill="#453f1c"/><circle cx="373.15" cy="475.90" r="3.95" fill="#cfcf3a" stroke="#7a5c18" stroke-width="0.9"/>
<text class="tm" transform="translate(380.05 479.10) scale(0.915 1)">7:43am</text>
<path d="M404.85 482.50 L406.68 486.99 L411.51 487.34 L407.80 490.46 L408.97 495.16 L404.85 492.60 L400.74 495.16 L401.90 490.46 L398.20 487.34 L403.03 486.99 Z" fill="#453f1c"/><circle cx="404.85" cy="489.50" r="3.95" fill="#dd5a2a" stroke="#7a5c18" stroke-width="0.9"/>
<text class="tm" transform="translate(411.75 493.80) scale(0.915 1)">5:39pm</text>
<path d="M449.70 468.90 L451.52 473.39 L456.35 473.74 L452.64 476.86 L453.81 481.56 L449.70 479.00 L445.58 481.56 L446.75 476.86 L443.04 473.74 L447.87 473.39 Z" fill="#453f1c"/><circle cx="449.70" cy="475.90" r="3.95" fill="#cfcf3a" stroke="#7a5c18" stroke-width="0.9"/>
<text class="tm" transform="translate(456.60 479.10) scale(0.915 1)">7:42am</text>
<path d="M481.51 482.50 L483.33 486.99 L488.16 487.34 L484.45 490.46 L485.62 495.16 L481.51 492.60 L477.39 495.16 L478.56 490.46 L474.85 487.34 L479.68 486.99 Z" fill="#453f1c"/><circle cx="481.51" cy="489.50" r="3.95" fill="#dd5a2a" stroke="#7a5c18" stroke-width="0.9"/>
<text class="tm" transform="translate(488.41 493.80) scale(0.915 1)">5:40pm</text>
<path d="M526.24 468.90 L528.06 473.39 L532.90 473.74 L529.19 476.86 L530.36 481.56 L526.24 479.00 L522.13 481.56 L523.29 476.86 L519.59 473.74 L524.42 473.39 Z" fill="#453f1c"/><circle cx="526.24" cy="475.90" r="3.95" fill="#cfcf3a" stroke="#7a5c18" stroke-width="0.9"/>
<text class="tm" transform="translate(533.14 479.10) scale(0.915 1)">7:41am</text>
<path d="M558.16 482.50 L559.98 486.99 L564.82 487.34 L561.11 490.46 L562.27 495.16 L558.16 492.60 L554.04 495.16 L555.21 490.46 L551.50 487.34 L556.34 486.99 Z" fill="#453f1c"/><circle cx="558.16" cy="489.50" r="3.95" fill="#dd5a2a" stroke="#7a5c18" stroke-width="0.9"/>
<text class="tm" transform="translate(565.06 493.80) scale(0.915 1)">5:41pm</text>
<path d="M602.79 468.90 L604.61 473.39 L609.45 473.74 L605.74 476.86 L606.90 481.56 L602.79 479.00 L598.67 481.56 L599.84 476.86 L596.13 473.74 L600.97 473.39 Z" fill="#453f1c"/><circle cx="602.79" cy="475.90" r="3.95" fill="#cfcf3a" stroke="#7a5c18" stroke-width="0.9"/>
<text class="tm" transform="translate(609.69 479.10) scale(0.915 1)">7:40am</text>
<path d="M634.81 482.50 L636.63 486.99 L641.47 487.34 L637.76 490.46 L638.93 495.16 L634.81 492.60 L630.70 495.16 L631.86 490.46 L628.16 487.34 L632.99 486.99 Z" fill="#453f1c"/><circle cx="634.81" cy="489.50" r="3.95" fill="#dd5a2a" stroke="#7a5c18" stroke-width="0.9"/>
<text class="tm" transform="translate(641.71 493.80) scale(0.915 1)">5:42pm</text>
<path d="M679.28 468.90 L681.11 473.39 L685.94 473.74 L682.23 476.86 L683.40 481.56 L679.28 479.00 L675.17 481.56 L676.33 476.86 L672.63 473.74 L677.46 473.39 Z" fill="#453f1c"/><circle cx="679.28" cy="475.90" r="3.95" fill="#cfcf3a" stroke="#7a5c18" stroke-width="0.9"/>
<text class="tm" transform="translate(686.18 479.10) scale(0.915 1)">7:38am</text>
<circle cx="152.34" cy="502.7" r="5" fill="#ffffcc" stroke="#666" stroke-width="1"/>
<text class="tm" transform="translate(159.54 506.70) scale(0.915 1)">10:32am</text>
<circle cx="230.06" cy="502.7" r="5" fill="#ffffcc" stroke="#666" stroke-width="1"/>
<text class="tm" transform="translate(237.26 506.70) scale(0.915 1)">10:53am</text>
<circle cx="307.88" cy="502.7" r="5" fill="#ffffcc" stroke="#666" stroke-width="1"/>
<text class="tm" transform="translate(315.08 506.70) scale(0.915 1)">11:16am</text>
<circle cx="386.02" cy="502.7" r="5" fill="#ffffcc" stroke="#666" stroke-width="1"/>
<text class="tm" transform="translate(393.22 506.70) scale(0.915 1)">11:45am</text>
<circle cx="464.48" cy="502.7" r="5" fill="#ffffcc" stroke="#666" stroke-width="1"/>
<text class="tm" transform="translate(471.68 506.70) scale(0.915 1)">12:20pm</text>
<circle cx="543.42" cy="502.7" r="5" fill="#ffffcc" stroke="#666" stroke-width="1"/>
<text class="tm" transform="translate(550.62 506.70) scale(0.915 1)">1:04pm</text>
<circle cx="622.95" cy="502.7" r="5" fill="#ffffcc" stroke="#666" stroke-width="1"/>
<text class="tm" transform="translate(630.15 506.70) scale(0.915 1)">1:59pm</text>
<circle cx="116.70" cy="516.5" r="5" fill="#c6c6b8" stroke="#555" stroke-width="1"/>
<text class="tm" transform="translate(123.80 520.20) scale(0.915 1)">11:22pm</text>
<circle cx="196.65" cy="516.5" r="5" fill="#c6c6b8" stroke="#555" stroke-width="1"/>
<text class="tm" transform="translate(203.75 520.20) scale(0.915 1)">12:25am</text>
<circle cx="276.65" cy="516.5" r="5" fill="#c6c6b8" stroke="#555" stroke-width="1"/>
<text class="tm" transform="translate(283.75 520.20) scale(0.915 1)">1:29am</text>
<circle cx="356.66" cy="516.5" r="5" fill="#c6c6b8" stroke="#555" stroke-width="1"/>
<text class="tm" transform="translate(363.76 520.20) scale(0.915 1)">2:33am</text>
<circle cx="436.72" cy="516.5" r="5" fill="#c6c6b8" stroke="#555" stroke-width="1"/>
<text class="tm" transform="translate(443.82 520.20) scale(0.915 1)">3:38am</text>
<circle cx="516.61" cy="516.5" r="5" fill="#c6c6b8" stroke="#555" stroke-width="1"/>
<text class="tm" transform="translate(523.71 520.20) scale(0.915 1)">4:40am</text>
<circle cx="596.19" cy="516.5" r="5" fill="#c6c6b8" stroke="#555" stroke-width="1"/>
<text class="tm" transform="translate(603.29 520.20) scale(0.915 1)">5:36am</text>
<circle cx="675.40" cy="516.5" r="5" fill="#c6c6b8" stroke="#555" stroke-width="1"/>
<text class="tm" transform="translate(682.50 520.20) scale(0.915 1)">6:25am</text>
<text x="217.7" y="533.6" style="font-size:10px;letter-spacing:-0.3px">First Quarter | 12:41am</text>
</svg></body></html>
